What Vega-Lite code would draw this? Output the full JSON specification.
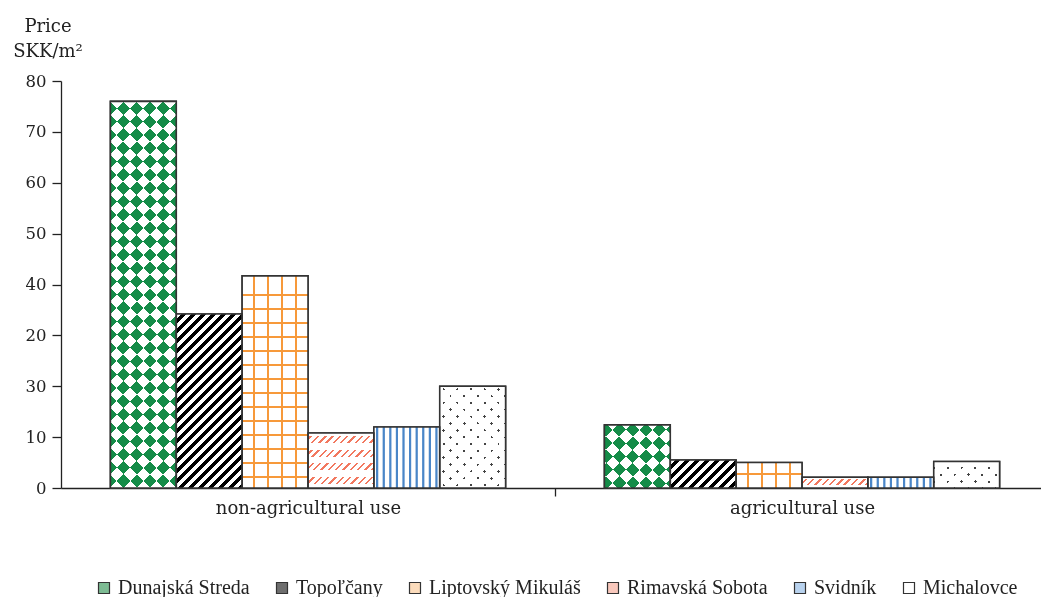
{
"$schema":"https://vega.github.io/schema/vega-lite/v6.json",
"width":980,"height":407,"autosize":"none",
"padding":{"left":61,"top":81,"right":0,"bottom":109},
"background":"white",
"config":{"view":{"stroke":null},"axis":{"domainColor":"#222","tickColor":"#222","labelColor":"#222","domainWidth":1.3,"tickWidth":1.3,"grid":false}},
"data":{"values":[
{"use":"non-agricultural use","district":"Dunajská Streda","price":76},
{"use":"non-agricultural use","district":"Topoľčany","price":34.2},
{"use":"non-agricultural use","district":"Liptovský Mikuláš","price":41.7},
{"use":"non-agricultural use","district":"Rimavská Sobota","price":10.8},
{"use":"non-agricultural use","district":"Svidník","price":12},
{"use":"non-agricultural use","district":"Michalovce","price":20},
{"use":"agricultural use","district":"Dunajská Streda","price":12.4},
{"use":"agricultural use","district":"Topoľčany","price":5.5},
{"use":"agricultural use","district":"Liptovský Mikuláš","price":5.0},
{"use":"agricultural use","district":"Rimavská Sobota","price":2.1},
{"use":"agricultural use","district":"Svidník","price":2.1},
{"use":"agricultural use","district":"Michalovce","price":5.2}]},
"encoding":{
"x":{"field":"use","type":"nominal","title":null,"scale":{"domain":["non-agricultural use","agricultural use"],"range":[0,988],"paddingInner":0.2,"paddingOuter":0.1},
 "axis":{"labelAngle":0,"labelLimit":0,"labelFont":"DejaVu Serif","labelFontSize":18,"bandPosition":1,"tickExtra":false,"tickOffset":49.5,"labelOffset":-49.5,"tickSize":8,"labelPadding":3}},
"xOffset":{"field":"district","type":"nominal","scale":{"domain":["Dunajská Streda","Topoľčany","Liptovský Mikuláš","Rimavská Sobota","Svidník","Michalovce"],"paddingInner":0,"paddingOuter":0}},
"y":{"field":"price","type":"quantitative","scale":{"domain":[0,80],"nice":false},
 "axis":{"values":[0,10,20,30,40,50,60,70,80],"labelExpr":"datum.value == 20 ? '30' : datum.value == 30 ? '20' : datum.label","tickSize":9,"labelPadding":6,"labelFont":"DejaVu Serif","labelFontSize":16.5,
  "title":["Price","SKK/m²"],"titleAngle":0,"titleAlign":"center","titleBaseline":"alphabetic","titleX":-13.5,"titleY":-49.3,"titleFont":"DejaVu Serif","titleFontSize":18,"titleFontWeight":"normal","titleLineHeight":25,"titleColor":"#222"}}
},
"layer":[
{"mark":{"type":"bar","stroke":"#333","strokeWidth":1.5},
 "encoding":{"color":{"field":"district","type":"nominal","scale":{"domain":["Dunajská Streda","Topoľčany","Liptovský Mikuláš","Rimavská Sobota","Svidník","Michalovce"],"range":["#7dbb93","#6e6e6e","#fcdcbc","#f9c8bc","#b8d2ee","#ffffff"]},
  "legend":{"orient":"none","legendX":33,"legendY":497,"direction":"horizontal","title":null,"symbolType":"square","symbolSize":121,"symbolStrokeColor":"#333","symbolStrokeWidth":1.2,"symbolOpacity":1,"labelFont":"Liberation Serif","labelFontSize":20,"labelColor":"#222","labelOffset":4,"columnPadding":22}}}},
{"transform":[{"filter":"datum.district === 'Dunajská Streda' && datum.use === 'non-agricultural use'"}],
 "mark":{"type":"bar","fill":{"gradient":"linear","x1":0,"y1":0,"x2":0.19376,"y2":1.13737,"stops":[
{"offset":0,"color":"#fff"},{"offset":0.02941,"color":"#fff"},{"offset":0.02941,"color":"#000"},{"offset":0.05882,"color":"#000"},{"offset":0.05882,"color":"#fff"},{"offset":0.08824,"color":"#fff"},{"offset":0.08824,"color":"#000"},{"offset":0.11765,"color":"#000"},{"offset":0.11765,"color":"#fff"},{"offset":0.14706,"color":"#fff"},{"offset":0.14706,"color":"#000"},{"offset":0.17647,"color":"#000"},{"offset":0.17647,"color":"#fff"},{"offset":0.20588,"color":"#fff"},{"offset":0.20588,"color":"#000"},{"offset":0.23529,"color":"#000"},{"offset":0.23529,"color":"#fff"},{"offset":0.26471,"color":"#fff"},{"offset":0.26471,"color":"#000"},{"offset":0.29412,"color":"#000"},{"offset":0.29412,"color":"#fff"},{"offset":0.32353,"color":"#fff"},{"offset":0.32353,"color":"#000"},{"offset":0.35294,"color":"#000"},{"offset":0.35294,"color":"#fff"},{"offset":0.38235,"color":"#fff"},{"offset":0.38235,"color":"#000"},{"offset":0.41176,"color":"#000"},{"offset":0.41176,"color":"#fff"},{"offset":0.44118,"color":"#fff"},{"offset":0.44118,"color":"#000"},{"offset":0.47059,"color":"#000"},{"offset":0.47059,"color":"#fff"},{"offset":0.5,"color":"#fff"},{"offset":0.5,"color":"#000"},{"offset":0.52941,"color":"#000"},{"offset":0.52941,"color":"#fff"},{"offset":0.55882,"color":"#fff"},{"offset":0.55882,"color":"#000"},{"offset":0.58824,"color":"#000"},{"offset":0.58824,"color":"#fff"},{"offset":0.61765,"color":"#fff"},{"offset":0.61765,"color":"#000"},{"offset":0.64706,"color":"#000"},{"offset":0.64706,"color":"#fff"},{"offset":0.67647,"color":"#fff"},{"offset":0.67647,"color":"#000"},{"offset":0.70588,"color":"#000"},{"offset":0.70588,"color":"#fff"},{"offset":0.73529,"color":"#fff"},{"offset":0.73529,"color":"#000"},{"offset":0.76471,"color":"#000"},{"offset":0.76471,"color":"#fff"},{"offset":0.79412,"color":"#fff"},{"offset":0.79412,"color":"#000"},{"offset":0.82353,"color":"#000"},{"offset":0.82353,"color":"#fff"},{"offset":0.85294,"color":"#fff"},{"offset":0.85294,"color":"#000"},{"offset":0.88235,"color":"#000"},{"offset":0.88235,"color":"#fff"},{"offset":0.91176,"color":"#fff"},{"offset":0.91176,"color":"#000"},{"offset":0.94118,"color":"#000"},{"offset":0.94118,"color":"#fff"},{"offset":0.97059,"color":"#fff"},{"offset":0.97059,"color":"#000"},{"offset":1,"color":"#000"}]}}},
{"transform":[{"filter":"datum.district === 'Dunajská Streda' && datum.use === 'non-agricultural use'"}],
 "mark":{"type":"bar","blend":"difference","fill":{"gradient":"linear","x1":0,"y1":1,"x2":0.19376,"y2":-0.13737,"stops":[
{"offset":0,"color":"#fff"},{"offset":0.02941,"color":"#fff"},{"offset":0.02941,"color":"#000"},{"offset":0.05882,"color":"#000"},{"offset":0.05882,"color":"#fff"},{"offset":0.08824,"color":"#fff"},{"offset":0.08824,"color":"#000"},{"offset":0.11765,"color":"#000"},{"offset":0.11765,"color":"#fff"},{"offset":0.14706,"color":"#fff"},{"offset":0.14706,"color":"#000"},{"offset":0.17647,"color":"#000"},{"offset":0.17647,"color":"#fff"},{"offset":0.20588,"color":"#fff"},{"offset":0.20588,"color":"#000"},{"offset":0.23529,"color":"#000"},{"offset":0.23529,"color":"#fff"},{"offset":0.26471,"color":"#fff"},{"offset":0.26471,"color":"#000"},{"offset":0.29412,"color":"#000"},{"offset":0.29412,"color":"#fff"},{"offset":0.32353,"color":"#fff"},{"offset":0.32353,"color":"#000"},{"offset":0.35294,"color":"#000"},{"offset":0.35294,"color":"#fff"},{"offset":0.38235,"color":"#fff"},{"offset":0.38235,"color":"#000"},{"offset":0.41176,"color":"#000"},{"offset":0.41176,"color":"#fff"},{"offset":0.44118,"color":"#fff"},{"offset":0.44118,"color":"#000"},{"offset":0.47059,"color":"#000"},{"offset":0.47059,"color":"#fff"},{"offset":0.5,"color":"#fff"},{"offset":0.5,"color":"#000"},{"offset":0.52941,"color":"#000"},{"offset":0.52941,"color":"#fff"},{"offset":0.55882,"color":"#fff"},{"offset":0.55882,"color":"#000"},{"offset":0.58824,"color":"#000"},{"offset":0.58824,"color":"#fff"},{"offset":0.61765,"color":"#fff"},{"offset":0.61765,"color":"#000"},{"offset":0.64706,"color":"#000"},{"offset":0.64706,"color":"#fff"},{"offset":0.67647,"color":"#fff"},{"offset":0.67647,"color":"#000"},{"offset":0.70588,"color":"#000"},{"offset":0.70588,"color":"#fff"},{"offset":0.73529,"color":"#fff"},{"offset":0.73529,"color":"#000"},{"offset":0.76471,"color":"#000"},{"offset":0.76471,"color":"#fff"},{"offset":0.79412,"color":"#fff"},{"offset":0.79412,"color":"#000"},{"offset":0.82353,"color":"#000"},{"offset":0.82353,"color":"#fff"},{"offset":0.85294,"color":"#fff"},{"offset":0.85294,"color":"#000"},{"offset":0.88235,"color":"#000"},{"offset":0.88235,"color":"#fff"},{"offset":0.91176,"color":"#fff"},{"offset":0.91176,"color":"#000"},{"offset":0.94118,"color":"#000"},{"offset":0.94118,"color":"#fff"},{"offset":0.97059,"color":"#fff"},{"offset":0.97059,"color":"#000"},{"offset":1,"color":"#000"}]}}},
{"transform":[{"filter":"datum.district === 'Dunajská Streda' && datum.use === 'agricultural use'"}],
 "mark":{"type":"bar","fill":{"gradient":"linear","x1":0,"y1":0,"x2":1.02106,"y2":0.97797,"stops":[
{"offset":0,"color":"#fff"},{"offset":0.1032,"color":"#fff"},{"offset":0.1032,"color":"#000"},{"offset":0.2064,"color":"#000"},{"offset":0.2064,"color":"#fff"},{"offset":0.3096,"color":"#fff"},{"offset":0.3096,"color":"#000"},{"offset":0.4128,"color":"#000"},{"offset":0.4128,"color":"#fff"},{"offset":0.5161,"color":"#fff"},{"offset":0.5161,"color":"#000"},{"offset":0.6193,"color":"#000"},{"offset":0.6193,"color":"#fff"},{"offset":0.7225,"color":"#fff"},{"offset":0.7225,"color":"#000"},{"offset":0.8257,"color":"#000"},{"offset":0.8257,"color":"#fff"},{"offset":0.9289,"color":"#fff"},{"offset":0.9289,"color":"#000"},{"offset":1,"color":"#000"}]}}},
{"transform":[{"filter":"datum.district === 'Dunajská Streda' && datum.use === 'agricultural use'"}],
 "mark":{"type":"bar","blend":"difference","fill":{"gradient":"linear","x1":0,"y1":1,"x2":1.02106,"y2":0.02203,"stops":[
{"offset":0,"color":"#fff"},{"offset":0.1032,"color":"#fff"},{"offset":0.1032,"color":"#000"},{"offset":0.2064,"color":"#000"},{"offset":0.2064,"color":"#fff"},{"offset":0.3096,"color":"#fff"},{"offset":0.3096,"color":"#000"},{"offset":0.4128,"color":"#000"},{"offset":0.4128,"color":"#fff"},{"offset":0.5161,"color":"#fff"},{"offset":0.5161,"color":"#000"},{"offset":0.6193,"color":"#000"},{"offset":0.6193,"color":"#fff"},{"offset":0.7225,"color":"#fff"},{"offset":0.7225,"color":"#000"},{"offset":0.8257,"color":"#000"},{"offset":0.8257,"color":"#fff"},{"offset":0.9289,"color":"#fff"},{"offset":0.9289,"color":"#000"},{"offset":1,"color":"#000"}]}}},
{"transform":[{"filter":"datum.district === 'Dunajská Streda'"}],
 "mark":{"type":"bar","fill":"#148c48","blend":"lighten"}},
{"transform":[{"filter":"datum.district === 'Topoľčany' && datum.use === 'non-agricultural use'"}],
 "mark":{"type":"bar","fill":{"gradient":"linear","x1":0,"y1":0,"x2":0.45646,"y2":1.20577,"stops":[
{"offset":0,"color":"#fff"},{"offset":0.02292,"color":"#fff"},{"offset":0.02292,"color":"#000"},{"offset":0.04167,"color":"#000"},{"offset":0.04167,"color":"#fff"},{"offset":0.06458,"color":"#fff"},{"offset":0.06458,"color":"#000"},{"offset":0.08333,"color":"#000"},{"offset":0.08333,"color":"#fff"},{"offset":0.10625,"color":"#fff"},{"offset":0.10625,"color":"#000"},{"offset":0.125,"color":"#000"},{"offset":0.125,"color":"#fff"},{"offset":0.14792,"color":"#fff"},{"offset":0.14792,"color":"#000"},{"offset":0.16667,"color":"#000"},{"offset":0.16667,"color":"#fff"},{"offset":0.18958,"color":"#fff"},{"offset":0.18958,"color":"#000"},{"offset":0.20833,"color":"#000"},{"offset":0.20833,"color":"#fff"},{"offset":0.23125,"color":"#fff"},{"offset":0.23125,"color":"#000"},{"offset":0.25,"color":"#000"},{"offset":0.25,"color":"#fff"},{"offset":0.27292,"color":"#fff"},{"offset":0.27292,"color":"#000"},{"offset":0.29167,"color":"#000"},{"offset":0.29167,"color":"#fff"},{"offset":0.31458,"color":"#fff"},{"offset":0.31458,"color":"#000"},{"offset":0.33333,"color":"#000"},{"offset":0.33333,"color":"#fff"},{"offset":0.35625,"color":"#fff"},{"offset":0.35625,"color":"#000"},{"offset":0.375,"color":"#000"},{"offset":0.375,"color":"#fff"},{"offset":0.39792,"color":"#fff"},{"offset":0.39792,"color":"#000"},{"offset":0.41667,"color":"#000"},{"offset":0.41667,"color":"#fff"},{"offset":0.43958,"color":"#fff"},{"offset":0.43958,"color":"#000"},{"offset":0.45833,"color":"#000"},{"offset":0.45833,"color":"#fff"},{"offset":0.48125,"color":"#fff"},{"offset":0.48125,"color":"#000"},{"offset":0.5,"color":"#000"},{"offset":0.5,"color":"#fff"},{"offset":0.52292,"color":"#fff"},{"offset":0.52292,"color":"#000"},{"offset":0.54167,"color":"#000"},{"offset":0.54167,"color":"#fff"},{"offset":0.56458,"color":"#fff"},{"offset":0.56458,"color":"#000"},{"offset":0.58333,"color":"#000"},{"offset":0.58333,"color":"#fff"},{"offset":0.60625,"color":"#fff"},{"offset":0.60625,"color":"#000"},{"offset":0.625,"color":"#000"},{"offset":0.625,"color":"#fff"},{"offset":0.64792,"color":"#fff"},{"offset":0.64792,"color":"#000"},{"offset":0.66667,"color":"#000"},{"offset":0.66667,"color":"#fff"},{"offset":0.68958,"color":"#fff"},{"offset":0.68958,"color":"#000"},{"offset":0.70833,"color":"#000"},{"offset":0.70833,"color":"#fff"},{"offset":0.73125,"color":"#fff"},{"offset":0.73125,"color":"#000"},{"offset":0.75,"color":"#000"},{"offset":0.75,"color":"#fff"},{"offset":0.77292,"color":"#fff"},{"offset":0.77292,"color":"#000"},{"offset":0.79167,"color":"#000"},{"offset":0.79167,"color":"#fff"},{"offset":0.81458,"color":"#fff"},{"offset":0.81458,"color":"#000"},{"offset":0.83333,"color":"#000"},{"offset":0.83333,"color":"#fff"},{"offset":0.85625,"color":"#fff"},{"offset":0.85625,"color":"#000"},{"offset":0.875,"color":"#000"},{"offset":0.875,"color":"#fff"},{"offset":0.89792,"color":"#fff"},{"offset":0.89792,"color":"#000"},{"offset":0.91667,"color":"#000"},{"offset":0.91667,"color":"#fff"},{"offset":0.93958,"color":"#fff"},{"offset":0.93958,"color":"#000"},{"offset":0.95833,"color":"#000"},{"offset":0.95833,"color":"#fff"},{"offset":0.98125,"color":"#fff"},{"offset":0.98125,"color":"#000"},{"offset":1,"color":"#000"}]}}},
{"transform":[{"filter":"datum.district === 'Topoľčany' && datum.use === 'agricultural use'"}],
 "mark":{"type":"bar","fill":{"gradient":"linear","x1":0,"y1":0,"x2":1.207,"y2":0.5127,"stops":[
{"offset":0,"color":"#fff"},{"offset":0.0586,"color":"#fff"},{"offset":0.0586,"color":"#000"},{"offset":0.1066,"color":"#000"},{"offset":0.1066,"color":"#fff"},{"offset":0.1652,"color":"#fff"},{"offset":0.1652,"color":"#000"},{"offset":0.2131,"color":"#000"},{"offset":0.2131,"color":"#fff"},{"offset":0.2717,"color":"#fff"},{"offset":0.2717,"color":"#000"},{"offset":0.3197,"color":"#000"},{"offset":0.3197,"color":"#fff"},{"offset":0.3783,"color":"#fff"},{"offset":0.3783,"color":"#000"},{"offset":0.4262,"color":"#000"},{"offset":0.4262,"color":"#fff"},{"offset":0.4848,"color":"#fff"},{"offset":0.4848,"color":"#000"},{"offset":0.5328,"color":"#000"},{"offset":0.5328,"color":"#fff"},{"offset":0.5914,"color":"#fff"},{"offset":0.5914,"color":"#000"},{"offset":0.6393,"color":"#000"},{"offset":0.6393,"color":"#fff"},{"offset":0.6979,"color":"#fff"},{"offset":0.6979,"color":"#000"},{"offset":0.7459,"color":"#000"},{"offset":0.7459,"color":"#fff"},{"offset":0.8045,"color":"#fff"},{"offset":0.8045,"color":"#000"},{"offset":0.8524,"color":"#000"},{"offset":0.8524,"color":"#fff"},{"offset":0.911,"color":"#fff"},{"offset":0.911,"color":"#000"},{"offset":0.959,"color":"#000"},{"offset":0.959,"color":"#fff"},{"offset":1,"color":"#fff"}]}}},
{"transform":[{"filter":"datum.district === 'Liptovský Mikuláš'"}],
 "mark":{"type":"bar","fill":{"gradient":"linear","x1":0,"y1":0,"x2":1,"y2":0,"stops":[
{"offset":0,"color":"#fff"},{"offset":0.165,"color":"#fff"},{"offset":0.165,"color":"#f7993a"},{"offset":0.199,"color":"#f7993a"},{"offset":0.199,"color":"#fff"},{"offset":0.378,"color":"#fff"},{"offset":0.378,"color":"#f7993a"},{"offset":0.412,"color":"#f7993a"},{"offset":0.412,"color":"#fff"},{"offset":0.59,"color":"#fff"},{"offset":0.59,"color":"#f7993a"},{"offset":0.624,"color":"#f7993a"},{"offset":0.624,"color":"#fff"},{"offset":0.803,"color":"#fff"},{"offset":0.803,"color":"#f7993a"},{"offset":0.837,"color":"#f7993a"},{"offset":0.837,"color":"#fff"},{"offset":1,"color":"#fff"}]}}},
{"transform":[{"filter":"datum.district === 'Liptovský Mikuláš' && datum.use === 'non-agricultural use'"}],
 "mark":{"type":"bar","fill":{"gradient":"linear","x1":0,"y1":0,"x2":0,"y2":1,"stops":[
{"offset":0,"color":"rgba(255,255,255,0)"},{"offset":0.0844,"color":"rgba(255,255,255,0)"},{"offset":0.0844,"color":"#f7993a"},{"offset":0.0948,"color":"#f7993a"},{"offset":0.0948,"color":"rgba(255,255,255,0)"},{"offset":0.1504,"color":"rgba(255,255,255,0)"},{"offset":0.1504,"color":"#f7993a"},{"offset":0.1608,"color":"#f7993a"},{"offset":0.1608,"color":"rgba(255,255,255,0)"},{"offset":0.2163,"color":"rgba(255,255,255,0)"},{"offset":0.2163,"color":"#f7993a"},{"offset":0.2267,"color":"#f7993a"},{"offset":0.2267,"color":"rgba(255,255,255,0)"},{"offset":0.2823,"color":"rgba(255,255,255,0)"},{"offset":0.2823,"color":"#f7993a"},{"offset":0.2927,"color":"#f7993a"},{"offset":0.2927,"color":"rgba(255,255,255,0)"},{"offset":0.3483,"color":"rgba(255,255,255,0)"},{"offset":0.3483,"color":"#f7993a"},{"offset":0.3587,"color":"#f7993a"},{"offset":0.3587,"color":"rgba(255,255,255,0)"},{"offset":0.4143,"color":"rgba(255,255,255,0)"},{"offset":0.4143,"color":"#f7993a"},{"offset":0.4247,"color":"#f7993a"},{"offset":0.4247,"color":"rgba(255,255,255,0)"},{"offset":0.4803,"color":"rgba(255,255,255,0)"},{"offset":0.4803,"color":"#f7993a"},{"offset":0.4907,"color":"#f7993a"},{"offset":0.4907,"color":"rgba(255,255,255,0)"},{"offset":0.5463,"color":"rgba(255,255,255,0)"},{"offset":0.5463,"color":"#f7993a"},{"offset":0.5567,"color":"#f7993a"},{"offset":0.5567,"color":"rgba(255,255,255,0)"},{"offset":0.6123,"color":"rgba(255,255,255,0)"},{"offset":0.6123,"color":"#f7993a"},{"offset":0.6227,"color":"#f7993a"},{"offset":0.6227,"color":"rgba(255,255,255,0)"},{"offset":0.6783,"color":"rgba(255,255,255,0)"},{"offset":0.6783,"color":"#f7993a"},{"offset":0.6887,"color":"#f7993a"},{"offset":0.6887,"color":"rgba(255,255,255,0)"},{"offset":0.7443,"color":"rgba(255,255,255,0)"},{"offset":0.7443,"color":"#f7993a"},{"offset":0.7547,"color":"#f7993a"},{"offset":0.7547,"color":"rgba(255,255,255,0)"},{"offset":0.8103,"color":"rgba(255,255,255,0)"},{"offset":0.8103,"color":"#f7993a"},{"offset":0.8207,"color":"#f7993a"},{"offset":0.8207,"color":"rgba(255,255,255,0)"},{"offset":0.8762,"color":"rgba(255,255,255,0)"},{"offset":0.8762,"color":"#f7993a"},{"offset":0.8866,"color":"#f7993a"},{"offset":0.8866,"color":"rgba(255,255,255,0)"},{"offset":0.9422,"color":"rgba(255,255,255,0)"},{"offset":0.9422,"color":"#f7993a"},{"offset":0.9526,"color":"#f7993a"},{"offset":0.9526,"color":"rgba(255,255,255,0)"},{"offset":1,"color":"rgba(255,255,255,0)"}]}}},
{"transform":[{"filter":"datum.district === 'Liptovský Mikuláš' && datum.use === 'agricultural use'"}],
 "mark":{"type":"bar","fill":{"gradient":"linear","x1":0,"y1":0,"x2":0,"y2":1,"stops":[
{"offset":0,"color":"rgba(255,255,255,0)"},{"offset":0.4,"color":"rgba(255,255,255,0)"},{"offset":0.4,"color":"#f7993a"},{"offset":0.486,"color":"#f7993a"},{"offset":0.486,"color":"rgba(255,255,255,0)"},{"offset":1,"color":"rgba(255,255,255,0)"}]}}},
{"transform":[{"filter":"datum.district === 'Rimavská Sobota' && datum.use === 'non-agricultural use'"}],
 "mark":{"type":"bar","fill":{"gradient":"linear","x1":0,"y1":0,"x2":1.08159,"y2":0.90213,"stops":[
{"offset":0,"color":"#fff"},{"offset":0.0394,"color":"#fff"},{"offset":0.0394,"color":"#f2785f"},{"offset":0.0606,"color":"#f2785f"},{"offset":0.0606,"color":"#fff"},{"offset":0.1,"color":"#fff"},{"offset":0.1,"color":"#f2785f"},{"offset":0.1212,"color":"#f2785f"},{"offset":0.1212,"color":"#fff"},{"offset":0.1606,"color":"#fff"},{"offset":0.1606,"color":"#f2785f"},{"offset":0.1818,"color":"#f2785f"},{"offset":0.1818,"color":"#fff"},{"offset":0.2212,"color":"#fff"},{"offset":0.2212,"color":"#f2785f"},{"offset":0.2424,"color":"#f2785f"},{"offset":0.2424,"color":"#fff"},{"offset":0.2818,"color":"#fff"},{"offset":0.2818,"color":"#f2785f"},{"offset":0.303,"color":"#f2785f"},{"offset":0.303,"color":"#fff"},{"offset":0.3424,"color":"#fff"},{"offset":0.3424,"color":"#f2785f"},{"offset":0.3636,"color":"#f2785f"},{"offset":0.3636,"color":"#fff"},{"offset":0.403,"color":"#fff"},{"offset":0.403,"color":"#f2785f"},{"offset":0.4242,"color":"#f2785f"},{"offset":0.4242,"color":"#fff"},{"offset":0.4636,"color":"#fff"},{"offset":0.4636,"color":"#f2785f"},{"offset":0.4848,"color":"#f2785f"},{"offset":0.4848,"color":"#fff"},{"offset":0.5242,"color":"#fff"},{"offset":0.5242,"color":"#f2785f"},{"offset":0.5455,"color":"#f2785f"},{"offset":0.5455,"color":"#fff"},{"offset":0.5849,"color":"#fff"},{"offset":0.5849,"color":"#f2785f"},{"offset":0.6061,"color":"#f2785f"},{"offset":0.6061,"color":"#fff"},{"offset":0.6455,"color":"#fff"},{"offset":0.6455,"color":"#f2785f"},{"offset":0.6667,"color":"#f2785f"},{"offset":0.6667,"color":"#fff"},{"offset":0.7061,"color":"#fff"},{"offset":0.7061,"color":"#f2785f"},{"offset":0.7273,"color":"#f2785f"},{"offset":0.7273,"color":"#fff"},{"offset":0.7667,"color":"#fff"},{"offset":0.7667,"color":"#f2785f"},{"offset":0.7879,"color":"#f2785f"},{"offset":0.7879,"color":"#fff"},{"offset":0.8273,"color":"#fff"},{"offset":0.8273,"color":"#f2785f"},{"offset":0.8485,"color":"#f2785f"},{"offset":0.8485,"color":"#fff"},{"offset":0.8879,"color":"#fff"},{"offset":0.8879,"color":"#f2785f"},{"offset":0.9091,"color":"#f2785f"},{"offset":0.9091,"color":"#fff"},{"offset":0.9485,"color":"#fff"},{"offset":0.9485,"color":"#f2785f"},{"offset":0.9697,"color":"#f2785f"},{"offset":0.9697,"color":"#fff"},{"offset":1,"color":"#fff"}]}}},
{"transform":[{"filter":"datum.district === 'Rimavská Sobota' && datum.use === 'agricultural use'"}],
 "mark":{"type":"bar","fill":{"gradient":"linear","x1":0,"y1":0,"x2":1.13236,"y2":0.1836,"stops":[
{"offset":0,"color":"#fff"},{"offset":0.0622,"color":"#fff"},{"offset":0.0622,"color":"#f2785f"},{"offset":0.0956,"color":"#f2785f"},{"offset":0.0956,"color":"#fff"},{"offset":0.1578,"color":"#fff"},{"offset":0.1578,"color":"#f2785f"},{"offset":0.1912,"color":"#f2785f"},{"offset":0.1912,"color":"#fff"},{"offset":0.2534,"color":"#fff"},{"offset":0.2534,"color":"#f2785f"},{"offset":0.2869,"color":"#f2785f"},{"offset":0.2869,"color":"#fff"},{"offset":0.349,"color":"#fff"},{"offset":0.349,"color":"#f2785f"},{"offset":0.3825,"color":"#f2785f"},{"offset":0.3825,"color":"#fff"},{"offset":0.4447,"color":"#fff"},{"offset":0.4447,"color":"#f2785f"},{"offset":0.4781,"color":"#f2785f"},{"offset":0.4781,"color":"#fff"},{"offset":0.5403,"color":"#fff"},{"offset":0.5403,"color":"#f2785f"},{"offset":0.5737,"color":"#f2785f"},{"offset":0.5737,"color":"#fff"},{"offset":0.6359,"color":"#fff"},{"offset":0.6359,"color":"#f2785f"},{"offset":0.6694,"color":"#f2785f"},{"offset":0.6694,"color":"#fff"},{"offset":0.7315,"color":"#fff"},{"offset":0.7315,"color":"#f2785f"},{"offset":0.765,"color":"#f2785f"},{"offset":0.765,"color":"#fff"},{"offset":0.8272,"color":"#fff"},{"offset":0.8272,"color":"#f2785f"},{"offset":0.8606,"color":"#f2785f"},{"offset":0.8606,"color":"#fff"},{"offset":0.9228,"color":"#fff"},{"offset":0.9228,"color":"#f2785f"},{"offset":0.9562,"color":"#f2785f"},{"offset":0.9562,"color":"#fff"},{"offset":1,"color":"#fff"}]}}},
{"transform":[{"filter":"datum.district === 'Rimavská Sobota' && datum.use === 'non-agricultural use'"}],
 "mark":{"type":"bar","fill":{"gradient":"linear","x1":0,"y1":0,"x2":0,"y2":1,"stops":[
{"offset":0,"color":"#fff"},{"offset":0.0546,"color":"#fff"},{"offset":0.0546,"color":"rgba(255,255,255,0)"},{"offset":0.1821,"color":"rgba(255,255,255,0)"},{"offset":0.1821,"color":"#fff"},{"offset":0.3042,"color":"#fff"},{"offset":0.3042,"color":"rgba(255,255,255,0)"},{"offset":0.4317,"color":"rgba(255,255,255,0)"},{"offset":0.4317,"color":"#fff"},{"offset":0.5537,"color":"#fff"},{"offset":0.5537,"color":"rgba(255,255,255,0)"},{"offset":0.6812,"color":"rgba(255,255,255,0)"},{"offset":0.6812,"color":"#fff"},{"offset":0.8033,"color":"#fff"},{"offset":0.8033,"color":"rgba(255,255,255,0)"},{"offset":0.9308,"color":"rgba(255,255,255,0)"},{"offset":0.9308,"color":"#fff"},{"offset":1,"color":"#fff"}]}}},
{"transform":[{"filter":"datum.district === 'Rimavská Sobota' && datum.use === 'agricultural use'"}],
 "mark":{"type":"bar","fill":{"gradient":"linear","x1":0,"y1":0,"x2":0,"y2":1,"stops":[
{"offset":0,"color":"#fff"},{"offset":0.12,"color":"#fff"},{"offset":0.12,"color":"rgba(255,255,255,0)"},{"offset":0.75,"color":"rgba(255,255,255,0)"},{"offset":0.75,"color":"#fff"},{"offset":1,"color":"#fff"}]}}},
{"transform":[{"filter":"datum.district === 'Svidník'"}],
 "mark":{"type":"bar","fill":{"gradient":"linear","x1":0,"y1":0,"x2":1,"y2":0,"stops":[
{"offset":0,"color":"#fff"},
{"offset":0.026,"color":"#fff"},{"offset":0.04,"color":"#4a86c8"},{"offset":0.06,"color":"#4a86c8"},{"offset":0.074,"color":"#fff"},
{"offset":0.126,"color":"#fff"},{"offset":0.14,"color":"#4a86c8"},{"offset":0.16,"color":"#4a86c8"},{"offset":0.174,"color":"#fff"},
{"offset":0.226,"color":"#fff"},{"offset":0.24,"color":"#4a86c8"},{"offset":0.26,"color":"#4a86c8"},{"offset":0.274,"color":"#fff"},
{"offset":0.326,"color":"#fff"},{"offset":0.34,"color":"#4a86c8"},{"offset":0.36,"color":"#4a86c8"},{"offset":0.374,"color":"#fff"},
{"offset":0.426,"color":"#fff"},{"offset":0.44,"color":"#4a86c8"},{"offset":0.46,"color":"#4a86c8"},{"offset":0.474,"color":"#fff"},
{"offset":0.526,"color":"#fff"},{"offset":0.54,"color":"#4a86c8"},{"offset":0.56,"color":"#4a86c8"},{"offset":0.574,"color":"#fff"},
{"offset":0.626,"color":"#fff"},{"offset":0.64,"color":"#4a86c8"},{"offset":0.66,"color":"#4a86c8"},{"offset":0.674,"color":"#fff"},
{"offset":0.726,"color":"#fff"},{"offset":0.74,"color":"#4a86c8"},{"offset":0.76,"color":"#4a86c8"},{"offset":0.774,"color":"#fff"},
{"offset":0.826,"color":"#fff"},{"offset":0.84,"color":"#4a86c8"},{"offset":0.86,"color":"#4a86c8"},{"offset":0.874,"color":"#fff"},
{"offset":0.926,"color":"#fff"},{"offset":0.94,"color":"#4a86c8"},{"offset":0.96,"color":"#4a86c8"},{"offset":0.974,"color":"#fff"},
{"offset":1,"color":"#fff"}]}}},
{"transform":[{"filter":"datum.district === 'Michalovce' && datum.use === 'non-agricultural use'"}],
 "mark":{"type":"bar","fill":{"gradient":"linear","x1":0,"y1":0,"x2":0.75152,"y2":1.16087,"stops":[
{"offset":0,"color":"#fff"},{"offset":0.0326,"color":"#fff"},{"offset":0.0326,"color":"#444"},{"offset":0.0492,"color":"#444"},{"offset":0.0492,"color":"#fff"},{"offset":0.1143,"color":"#fff"},{"offset":0.1143,"color":"#444"},{"offset":0.1309,"color":"#444"},{"offset":0.1309,"color":"#fff"},{"offset":0.196,"color":"#fff"},{"offset":0.196,"color":"#444"},{"offset":0.2126,"color":"#444"},{"offset":0.2126,"color":"#fff"},{"offset":0.2778,"color":"#fff"},{"offset":0.2778,"color":"#444"},{"offset":0.2944,"color":"#444"},{"offset":0.2944,"color":"#fff"},{"offset":0.3595,"color":"#fff"},{"offset":0.3595,"color":"#444"},{"offset":0.3761,"color":"#444"},{"offset":0.3761,"color":"#fff"},{"offset":0.4413,"color":"#fff"},{"offset":0.4413,"color":"#444"},{"offset":0.4579,"color":"#444"},{"offset":0.4579,"color":"#fff"},{"offset":0.523,"color":"#fff"},{"offset":0.523,"color":"#444"},{"offset":0.5396,"color":"#444"},{"offset":0.5396,"color":"#fff"},{"offset":0.6047,"color":"#fff"},{"offset":0.6047,"color":"#444"},{"offset":0.6213,"color":"#444"},{"offset":0.6213,"color":"#fff"},{"offset":0.6865,"color":"#fff"},{"offset":0.6865,"color":"#444"},{"offset":0.7031,"color":"#444"},{"offset":0.7031,"color":"#fff"},{"offset":0.7682,"color":"#fff"},{"offset":0.7682,"color":"#444"},{"offset":0.7848,"color":"#444"},{"offset":0.7848,"color":"#fff"},{"offset":0.85,"color":"#fff"},{"offset":0.85,"color":"#444"},{"offset":0.8666,"color":"#444"},{"offset":0.8666,"color":"#fff"},{"offset":0.9317,"color":"#fff"},{"offset":0.9317,"color":"#444"},{"offset":0.9483,"color":"#444"},{"offset":0.9483,"color":"#fff"},{"offset":1,"color":"#fff"}]}}},
{"transform":[{"filter":"datum.district === 'Michalovce' && datum.use === 'non-agricultural use'"}],
 "mark":{"type":"bar","blend":"lighten","fill":{"gradient":"linear","x1":0,"y1":1,"x2":0.75152,"y2":-0.16087,"stops":[
{"offset":0,"color":"#fff"},{"offset":0.0326,"color":"#fff"},{"offset":0.0326,"color":"#444"},{"offset":0.0492,"color":"#444"},{"offset":0.0492,"color":"#fff"},{"offset":0.1143,"color":"#fff"},{"offset":0.1143,"color":"#444"},{"offset":0.1309,"color":"#444"},{"offset":0.1309,"color":"#fff"},{"offset":0.196,"color":"#fff"},{"offset":0.196,"color":"#444"},{"offset":0.2126,"color":"#444"},{"offset":0.2126,"color":"#fff"},{"offset":0.2778,"color":"#fff"},{"offset":0.2778,"color":"#444"},{"offset":0.2944,"color":"#444"},{"offset":0.2944,"color":"#fff"},{"offset":0.3595,"color":"#fff"},{"offset":0.3595,"color":"#444"},{"offset":0.3761,"color":"#444"},{"offset":0.3761,"color":"#fff"},{"offset":0.4413,"color":"#fff"},{"offset":0.4413,"color":"#444"},{"offset":0.4579,"color":"#444"},{"offset":0.4579,"color":"#fff"},{"offset":0.523,"color":"#fff"},{"offset":0.523,"color":"#444"},{"offset":0.5396,"color":"#444"},{"offset":0.5396,"color":"#fff"},{"offset":0.6047,"color":"#fff"},{"offset":0.6047,"color":"#444"},{"offset":0.6213,"color":"#444"},{"offset":0.6213,"color":"#fff"},{"offset":0.6865,"color":"#fff"},{"offset":0.6865,"color":"#444"},{"offset":0.7031,"color":"#444"},{"offset":0.7031,"color":"#fff"},{"offset":0.7682,"color":"#fff"},{"offset":0.7682,"color":"#444"},{"offset":0.7848,"color":"#444"},{"offset":0.7848,"color":"#fff"},{"offset":0.85,"color":"#fff"},{"offset":0.85,"color":"#444"},{"offset":0.8666,"color":"#444"},{"offset":0.8666,"color":"#fff"},{"offset":0.9317,"color":"#fff"},{"offset":0.9317,"color":"#444"},{"offset":0.9483,"color":"#444"},{"offset":0.9483,"color":"#fff"},{"offset":1,"color":"#fff"}]}}},
{"transform":[{"filter":"datum.district === 'Michalovce' && datum.use === 'agricultural use'"}],
 "mark":{"type":"bar","fill":{"gradient":"linear","x1":0,"y1":0,"x2":1.20694,"y2":0.48483,"stops":[
{"offset":0,"color":"#fff"},{"offset":0.059,"color":"#fff"},{"offset":0.059,"color":"#444"},{"offset":0.0894,"color":"#444"},{"offset":0.0894,"color":"#fff"},{"offset":0.2074,"color":"#fff"},{"offset":0.2074,"color":"#444"},{"offset":0.2378,"color":"#444"},{"offset":0.2378,"color":"#fff"},{"offset":0.3558,"color":"#fff"},{"offset":0.3558,"color":"#444"},{"offset":0.3862,"color":"#444"},{"offset":0.3862,"color":"#fff"},{"offset":0.5041,"color":"#fff"},{"offset":0.5041,"color":"#444"},{"offset":0.5345,"color":"#444"},{"offset":0.5345,"color":"#fff"},{"offset":0.6525,"color":"#fff"},{"offset":0.6525,"color":"#444"},{"offset":0.6829,"color":"#444"},{"offset":0.6829,"color":"#fff"},{"offset":0.8009,"color":"#fff"},{"offset":0.8009,"color":"#444"},{"offset":0.8313,"color":"#444"},{"offset":0.8313,"color":"#fff"},{"offset":0.9493,"color":"#fff"},{"offset":0.9493,"color":"#444"},{"offset":0.9797,"color":"#444"},{"offset":0.9797,"color":"#fff"},{"offset":1,"color":"#fff"}]}}},
{"transform":[{"filter":"datum.district === 'Michalovce' && datum.use === 'agricultural use'"}],
 "mark":{"type":"bar","blend":"lighten","fill":{"gradient":"linear","x1":0,"y1":1,"x2":1.20694,"y2":0.51517,"stops":[
{"offset":0,"color":"#fff"},{"offset":0.059,"color":"#fff"},{"offset":0.059,"color":"#444"},{"offset":0.0894,"color":"#444"},{"offset":0.0894,"color":"#fff"},{"offset":0.2074,"color":"#fff"},{"offset":0.2074,"color":"#444"},{"offset":0.2378,"color":"#444"},{"offset":0.2378,"color":"#fff"},{"offset":0.3558,"color":"#fff"},{"offset":0.3558,"color":"#444"},{"offset":0.3862,"color":"#444"},{"offset":0.3862,"color":"#fff"},{"offset":0.5041,"color":"#fff"},{"offset":0.5041,"color":"#444"},{"offset":0.5345,"color":"#444"},{"offset":0.5345,"color":"#fff"},{"offset":0.6525,"color":"#fff"},{"offset":0.6525,"color":"#444"},{"offset":0.6829,"color":"#444"},{"offset":0.6829,"color":"#fff"},{"offset":0.8009,"color":"#fff"},{"offset":0.8009,"color":"#444"},{"offset":0.8313,"color":"#444"},{"offset":0.8313,"color":"#fff"},{"offset":0.9493,"color":"#fff"},{"offset":0.9493,"color":"#444"},{"offset":0.9797,"color":"#444"},{"offset":0.9797,"color":"#fff"},{"offset":1,"color":"#fff"}]}}},
{"mark":{"type":"bar","fill":"transparent","stroke":"#333","strokeWidth":1.6}}
]
}
